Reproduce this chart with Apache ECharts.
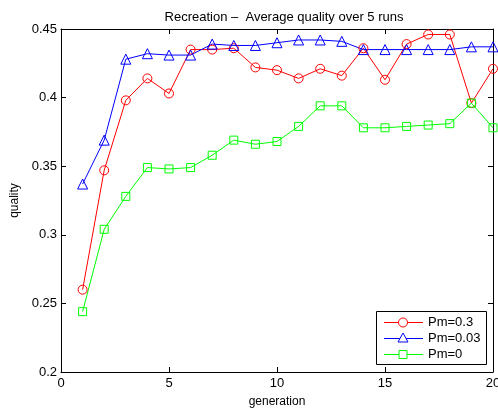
<!DOCTYPE html>
<html><head><meta charset="utf-8">
<script src="https://cdn.jsdelivr.net/npm/echarts@6/dist/echarts.min.js"></script>
<style>html,body{margin:0;padding:0;background:#fff}#c{width:498px;height:410px}</style>
</head><body><div id="c"></div>
<script>
var generations = [1,2,3,4,5,6,7,8,9,10,11,12,13,14,15,16,17,18,19,20];
var pm03 = [0.260,0.347,0.398,0.414,0.403,0.435,0.435,0.436,0.422,0.420,0.414,0.421,0.416,0.436,0.413,0.439,0.446,0.446,0.396,0.421];
var pm003 = [0.337,0.369,0.428,0.432,0.431,0.431,0.439,0.438,0.438,0.440,0.442,0.442,0.441,0.435,0.435,0.435,0.435,0.435,0.437,0.437];
var pm0 = [0.244,0.304,0.328,0.349,0.348,0.349,0.358,0.369,0.366,0.368,0.379,0.394,0.394,0.378,0.378,0.379,0.380,0.381,0.396,0.378];
var seriesNames = ['Pm=0.3','Pm=0.03','Pm=0'];
var seriesColors = ['#ff0000','#0000ff','#00ff00'];
var xTicks = [0,5,10,15,20];
var yTicks = [0.2,0.25,0.3,0.35,0.4,0.45];

function pairs(v){ return v.map(function(y,i){ return [generations[i], y]; }); }
var font = 'Liberation Sans, Arial, sans-serif';
var chart = echarts.init(document.getElementById('c'), null, {renderer:'canvas'});
function mkSeries(name, data, color, symbol, size){
  return {name:name, type:'line', data:pairs(data), symbol:symbol, symbolSize:size,
    showAllSymbol:true, animation:false, xAxisIndex:0, yAxisIndex:0, color:color,
    lineStyle:{color:color,width:1}, itemStyle:{color:'rgba(255,255,255,0)',borderColor:color,borderWidth:1},
    emphasis:{disabled:true}};
}
var axisCommon = {
  axisLine:{show:true,onZero:false,lineStyle:{color:'#000',width:1}},
  axisTick:{show:true,inside:true,length:5,lineStyle:{color:'#000'}},
  splitLine:{show:false}
};

// legend drawn as graphic elements (box, sample line, marker, label)
var LX = 376, LY = 311, LW = 110, LH = 53, rowY = [322, 338, 354];
var legendEls = [{type:'rect', shape:{x:LX+0.5, y:LY+0.5, width:LW, height:LH},
  style:{fill:'#fff', stroke:'#000', lineWidth:1}, z:100}];
seriesNames.forEach(function(n, i){
  var y = rowY[i] + 0.5, c = seriesColors[i], cx = 403;
  legendEls.push({type:'line', shape:{x1:384, y1:y, x2:423, y2:y}, style:{stroke:c, lineWidth:1}, z:101});
  if (i === 0) legendEls.push({type:'circle', shape:{cx:cx, cy:y, r:4.5}, style:{fill:'#fff', stroke:c, lineWidth:1}, z:102});
  if (i === 1) legendEls.push({type:'polygon', shape:{points:[[cx, y-5.5],[cx-5, y+3.5],[cx+5, y+3.5]]}, style:{fill:'#fff', stroke:c, lineWidth:1}, z:102});
  if (i === 2) legendEls.push({type:'rect', shape:{x:cx-4, y:y-4, width:8, height:8}, style:{fill:'#fff', stroke:c, lineWidth:1}, z:102});
  legendEls.push({type:'text', x:428, y:rowY[i]+0.5, style:{text:n, fill:'#000', font:'13px ' + font, textVerticalAlign:'middle', verticalAlign:'middle'}, z:102});
});

chart.setOption({
  backgroundColor:'#fff',
  animation:false,
  color:seriesColors,
  title:{text:'Recreation \u2013  Average quality over 5 runs', left:279, top:6, textAlign:'center',
    textStyle:{fontFamily:font,fontSize:13,fontWeight:'normal',color:'#000'}},
  grid:{left:61,right:5,top:29,bottom:38,containLabel:false,outerBoundsMode:'none'},
  graphic:legendEls,
  xAxis:[
    Object.assign({type:'value',min:0,max:20,interval:5,position:'bottom',
      name:'generation',nameLocation:'middle',nameGap:24,
      nameTextStyle:{fontFamily:font,fontSize:12,color:'#000'},
      axisLabel:{fontFamily:font,fontSize:13,color:'#000',margin:5,
        formatter:function(v){return xTicks.indexOf(v)>=0?String(v):'';}}}, axisCommon),
    Object.assign({type:'value',min:0,max:20,interval:5,position:'top',axisLabel:{show:false}}, axisCommon)
  ],
  yAxis:[
    Object.assign({type:'value',min:0.2,max:0.45,interval:0.05,position:'left',
      name:'quality',nameLocation:'middle',nameGap:29,nameRotate:90,
      nameTextStyle:{fontFamily:font,fontSize:12,color:'#000'},
      axisLabel:{fontFamily:font,fontSize:13,color:'#000',margin:4,
        formatter:function(v){var r=Math.round(v*100)/100; return String(r);}}}, axisCommon),
    Object.assign({type:'value',min:0.2,max:0.45,interval:0.05,position:'right',axisLabel:{show:false}}, axisCommon)
  ],
  series:[
    mkSeries(seriesNames[0], pm03, seriesColors[0], 'circle', 9),
    mkSeries(seriesNames[1], pm003, seriesColors[1], 'triangle', 10),
    mkSeries(seriesNames[2], pm0, seriesColors[2], 'rect', 8)
  ]
});
</script></body></html>
